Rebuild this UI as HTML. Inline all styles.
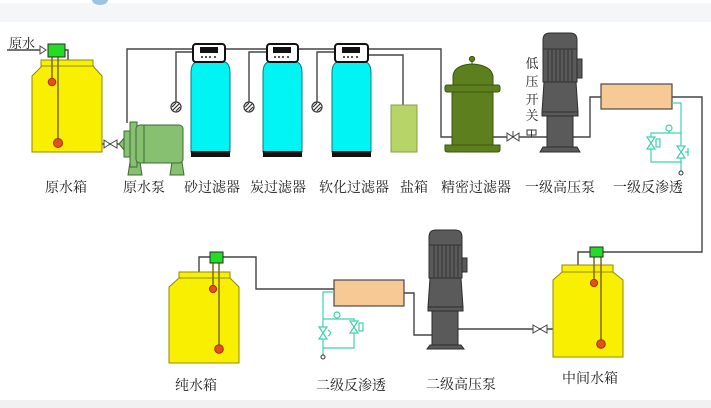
<!DOCTYPE html>
<html><head><meta charset="utf-8"><style>
html,body{margin:0;padding:0;background:#fff;}
svg{display:block;}
text{font-family:"Liberation Serif","Noto Serif CJK SC",serif;font-size:14px;fill:#1e1e1e;}
</style></head><body>
<svg width="711" height="408" viewBox="0 0 711 408" xmlns="http://www.w3.org/2000/svg">
<rect x="0" y="0" width="711" height="408" fill="#fff"/>
<!-- top band -->
<rect x="0" y="3" width="711" height="19" fill="#f5f6f8"/>
<path d="M92,0 A8,5 0 0 0 108,0 Z" fill="#9cc4e4"/>
<rect x="0" y="400" width="711" height="8" fill="#f1f1f1"/>

<!-- ========== pipes (dark) ========== -->
<g fill="none" stroke="#454545" stroke-width="1.4">
  <!-- raw water arrow -->
  <line x1="7" y1="50" x2="40" y2="50"/>
  <!-- raw tank green box to lid -->
  <polyline points="65,50 68,50 68,60"/>
  <!-- tank to valve to pump -->
  <line x1="102" y1="144" x2="120" y2="144"/>
  <!-- pump up to main line -->
  <polyline points="127,123 127,49 441,49 441,137 452,137"/>
  <!-- gauge lines -->
  <polyline points="176,102 176,52 193,52"/>
  <polyline points="249,102 249,52 267,52"/>
  <polyline points="317,102 317,52 335,52"/>
  <!-- softener to salt tank -->
  <polyline points="368,55 403,55 403,105"/>
  <!-- cartridge filter to pump1 -->
  <line x1="493" y1="137" x2="547" y2="137"/>
  <!-- pump1 to RO1 -->
  <polyline points="573,137 590,137 590,97 601,97"/>
  <!-- RO1 to middle tank -->
  <polyline points="672,97 702,97 702,252 603,252"/>
  <polyline points="590,252 578,252 578,265"/>
  <!-- middle tank to pump2 -->
  <line x1="458" y1="329" x2="553" y2="329"/>
  <!-- pump2 to RO2 -->
  <polyline points="432,335 414,335 414,293 404,293"/>
  <!-- RO2 to pure tank -->
  <polyline points="334,289 256,289 256,257 223,257"/>
  <polyline points="210,257 199,257 199,272"/>
</g>
<!-- raw arrowhead -->
<polygon points="40,46 46,50 40,54" fill="#fff" stroke="#454545" stroke-width="1"/>

<!-- ========== Raw water tank ========== -->
<rect x="41" y="60" width="52" height="6" fill="#f8f000" stroke="#8f8a00" stroke-width="1"/>
<polygon points="32,76 42,66 93,66 102,76 102,152 32,152" fill="#f8f000" stroke="#8f8a00" stroke-width="1"/>
<line x1="52" y1="57" x2="52" y2="82" stroke="#7a6a20" stroke-width="1.5"/>
<line x1="58" y1="57" x2="58" y2="143" stroke="#7a6a20" stroke-width="1.5"/>
<circle cx="52" cy="82" r="3.8" fill="#e4501a" stroke="#a83008" stroke-width="1"/>
<circle cx="58" cy="143" r="4.5" fill="#e4501a" stroke="#a83008" stroke-width="1"/>
<rect x="48" y="44" width="17" height="13" fill="#22dd22" stroke="#2a2a2a" stroke-width="1"/>
<text x="9" y="48" style="font-size:13px">原水</text>

<!-- valve 1 -->
<polygon points="104,140 110,144 104,148" fill="#fff" stroke="#444" stroke-width="1"/>
<polygon points="117,140 110,144 117,148" fill="#fff" stroke="#444" stroke-width="1"/>

<!-- ========== Pump 1 (horizontal, green) ========== -->
<g fill="#86c070" stroke="#3f6a35" stroke-width="1">
  <polygon points="130,162 140,162 142,175 128,175"/>
  <polygon points="172,162 182,162 184,175 170,175"/>
  <polygon points="119,144 124,138 124,150"/>
  <rect x="124" y="131" width="8" height="26"/>
  <rect x="130" y="122" width="7" height="45"/>
  <rect x="136" y="125" width="47" height="38" rx="4"/>
  <line x1="144" y1="125" x2="144" y2="163"/>
</g>

<!-- ========== Filters ========== -->
<g stroke="#0a7a7a" stroke-width="1" fill="#00f4f4">
  <path d="M196,62 L225,62 Q230,64 230,73 L230,152 L191,152 L191,73 Q191,64 196,62 Z"/>
  <path d="M268,62 L297,62 Q302,64 302,73 L302,152 L263,152 L263,73 Q263,64 268,62 Z"/>
  <path d="M337,62 L366,62 Q371,64 371,73 L371,152 L332,152 L332,73 Q332,64 337,62 Z"/>
</g>
<g fill="#111">
  <rect x="191" y="151" width="39" height="6"/>
  <rect x="263" y="151" width="39" height="6"/>
  <rect x="332" y="151" width="39" height="6"/>
</g>
<!-- controllers -->
<g>
  <rect x="193" y="44" width="32" height="18" rx="3" fill="#fff" stroke="#111" stroke-width="2"/>
  <rect x="200" y="47" width="18" height="6" fill="#111"/>
  <g fill="#222"><circle cx="202" cy="57" r="1"/><circle cx="206" cy="57" r="1"/><circle cx="210" cy="57" r="1"/><circle cx="215" cy="57" r="1"/></g>
  <rect x="267" y="44" width="31" height="18" rx="3" fill="#fff" stroke="#111" stroke-width="2"/>
  <rect x="273" y="47" width="18" height="6" fill="#111"/>
  <g fill="#222"><circle cx="275" cy="57" r="1"/><circle cx="279" cy="57" r="1"/><circle cx="283" cy="57" r="1"/><circle cx="288" cy="57" r="1"/></g>
  <rect x="335" y="44" width="33" height="18" rx="3" fill="#fff" stroke="#111" stroke-width="2"/>
  <rect x="342" y="47" width="18" height="6" fill="#111"/>
  <g fill="#222"><circle cx="344" cy="57" r="1"/><circle cx="348" cy="57" r="1"/><circle cx="352" cy="57" r="1"/><circle cx="357" cy="57" r="1"/></g>
</g>
<!-- gauges -->
<g fill="#fff" stroke="#333" stroke-width="1.2">
  <circle cx="176" cy="107" r="5"/>
  <circle cx="249" cy="107" r="5"/>
  <circle cx="317" cy="107" r="5"/>
</g>
<g stroke="#333" stroke-width="1.2">
  <line x1="173" y1="110" x2="179" y2="104"/><line x1="172" y1="107" x2="176" y2="103"/><line x1="176" y1="111" x2="180" y2="107"/>
  <line x1="246" y1="110" x2="252" y2="104"/><line x1="245" y1="107" x2="249" y2="103"/><line x1="249" y1="111" x2="253" y2="107"/>
  <line x1="314" y1="110" x2="320" y2="104"/><line x1="313" y1="107" x2="317" y2="103"/><line x1="317" y1="111" x2="321" y2="107"/>
</g>
<!-- salt tank -->
<rect x="391" y="105" width="26" height="47" fill="#b6d468" stroke="#8aa046" stroke-width="1"/>

<!-- ========== Cartridge filter ========== -->
<g fill="#5e7f1e" stroke="#3a5410" stroke-width="1">
  <line x1="472" y1="61" x2="472" y2="65"/>
  <circle cx="472" cy="59" r="2.6"/>
  <path d="M453,85 L453,76 Q454,65 472,64 Q491,65 493,76 L493,85 Z"/>
  <rect x="445" y="85" width="55" height="7" rx="2"/>
  <rect x="452" y="92" width="41" height="53"/>
  <path d="M445,145 L500,145 L500,150 Q500,152 497,152 L448,152 Q445,152 445,150 Z"/>
</g>
<!-- valve 2 -->
<polygon points="507,133 513,137 507,141" fill="#fff" stroke="#444" stroke-width="1"/>
<polygon points="519,133 513,137 519,141" fill="#fff" stroke="#444" stroke-width="1"/>
<line x1="513" y1="137" x2="513" y2="131" stroke="#444" stroke-width="1"/>
<!-- pressure switch -->
<rect x="527" y="130" width="9" height="5" fill="#fff" stroke="#333" stroke-width="1"/>
<line x1="531.5" y1="130" x2="531.5" y2="137" stroke="#333" stroke-width="1"/>
<text x="532" y="68" text-anchor="middle" style="font-size:13px">低</text>
<text x="532" y="86" text-anchor="middle" style="font-size:13px">压</text>
<text x="532" y="104" text-anchor="middle" style="font-size:13px">开</text>
<text x="532" y="120" text-anchor="middle" style="font-size:13px">关</text>

<!-- ========== Pump 1 vertical ========== -->
<g fill="#5a5a5a" stroke="#2c2c2c" stroke-width="1">
  <rect x="577" y="59" width="5" height="19"/>
  <path d="M543,82 L543,40 Q543,33 550,33 L570,33 Q577,33 577,40 L577,82 Z"/>
  <polygon points="544,82 576,82 578,112 542,112"/>
  <rect x="542" y="112" width="36" height="4"/>
  <rect x="547" y="116" width="26" height="31"/>
  <polygon points="543,147 577,147 580,152 540,152"/>
</g>
<g stroke="#333" stroke-width="1">
  <line x1="548" y1="49" x2="548" y2="81"/><line x1="552" y1="49" x2="552" y2="81"/><line x1="556" y1="49" x2="556" y2="81"/><line x1="560" y1="49" x2="560" y2="81"/><line x1="564" y1="49" x2="564" y2="81"/><line x1="568" y1="49" x2="568" y2="81"/><line x1="572" y1="49" x2="572" y2="81"/>
  <line x1="543" y1="49" x2="577" y2="49"/>
</g>

<!-- ========== RO1 ========== -->
<rect x="601" y="84" width="71" height="25" fill="#f7c995" stroke="#4a4a4a" stroke-width="1.2"/>
<g fill="none" stroke="#3ed2b0" stroke-width="1.2">
  <polyline points="672,103 681,103 681,172"/>
  <polyline points="681,133 651,133 651,162 681,162"/>
  <line x1="669" y1="131" x2="669" y2="133"/>
  <circle cx="669" cy="128" r="3"/>
  <polygon points="647,137 655,137 647,149 655,149" fill="#fff"/>
  <rect x="656" y="139" width="4" height="8" fill="#fff"/>
  <polygon points="677,146 685,146 677,158 685,158" fill="#fff"/>
  <line x1="685" y1="152" x2="688" y2="152"/>
  <line x1="688" y1="148" x2="688" y2="156"/>
</g>
<circle cx="681" cy="173" r="2" fill="#fff" stroke="#333" stroke-width="1"/>

<!-- ========== Middle tank ========== -->
<rect x="562" y="265" width="51" height="7" fill="#f8f000" stroke="#8f8a00" stroke-width="1"/>
<polygon points="553,280 562,272 613,272 623,280 623,357 553,357" fill="#f8f000" stroke="#8f8a00" stroke-width="1"/>
<line x1="594" y1="257" x2="594" y2="283" stroke="#7a6a20" stroke-width="1.5"/>
<line x1="601" y1="257" x2="601" y2="344" stroke="#7a6a20" stroke-width="1.5"/>
<circle cx="594" cy="283" r="3.6" fill="#e4501a" stroke="#a83008" stroke-width="1"/>
<circle cx="601" cy="344" r="4.3" fill="#e4501a" stroke="#a83008" stroke-width="1"/>
<rect x="590" y="247" width="13" height="10" fill="#22dd22" stroke="#2a2a2a" stroke-width="1"/>
<!-- valve 3 -->
<polygon points="533,325 540,329 533,333" fill="#fff" stroke="#444" stroke-width="1"/>
<polygon points="547,325 540,329 547,333" fill="#fff" stroke="#444" stroke-width="1"/>

<!-- ========== Pump 2 vertical ========== -->
<g fill="#5a5a5a" stroke="#2c2c2c" stroke-width="1">
  <rect x="462" y="258" width="5" height="14"/>
  <path d="M429,278 L429,237 Q429,230 436,230 L455,230 Q462,230 462,237 L462,278 Z"/>
  <polygon points="430,278 461,278 463,307 428,307"/>
  <rect x="428" y="307" width="35" height="4"/>
  <rect x="432" y="311" width="26" height="34"/>
  <polygon points="430,345 461,345 464,349 427,349"/>
</g>
<g stroke="#333" stroke-width="1">
  <line x1="434" y1="245" x2="434" y2="277"/><line x1="438" y1="245" x2="438" y2="277"/><line x1="442" y1="245" x2="442" y2="277"/><line x1="446" y1="245" x2="446" y2="277"/><line x1="450" y1="245" x2="450" y2="277"/><line x1="454" y1="245" x2="454" y2="277"/><line x1="458" y1="245" x2="458" y2="277"/>
  <line x1="429" y1="245" x2="462" y2="245"/>
</g>

<!-- ========== RO2 ========== -->
<rect x="334" y="280" width="70" height="26" fill="#f7c995" stroke="#4a4a4a" stroke-width="1.2"/>
<g fill="none" stroke="#3ed2b0" stroke-width="1.2">
  <polyline points="334,292 323,292 323,356"/>
  <polyline points="323,319 354,319 354,348 323,348"/>
  <line x1="337" y1="318" x2="337" y2="319"/>
  <circle cx="337" cy="315" r="3"/>
  <polygon points="319,327 327,327 319,339 327,339" fill="#fff"/>
  <path d="M328,330 Q333,333 328,336"/>
  <polygon points="350,321 358,321 350,333 358,333" fill="#fff"/>
  <rect x="359" y="323" width="4" height="8" fill="#fff"/>
</g>
<circle cx="323" cy="357" r="2" fill="#fff" stroke="#333" stroke-width="1"/>

<!-- ========== Pure water tank ========== -->
<rect x="179" y="272" width="51" height="6" fill="#f8f000" stroke="#8f8a00" stroke-width="1"/>
<polygon points="169,287 179,278 230,278 239,287 239,363 169,363" fill="#f8f000" stroke="#8f8a00" stroke-width="1"/>
<line x1="213" y1="263" x2="213" y2="289" stroke="#7a6a20" stroke-width="1.5"/>
<line x1="219" y1="263" x2="219" y2="349" stroke="#7a6a20" stroke-width="1.5"/>
<circle cx="213" cy="289" r="3.6" fill="#e4501a" stroke="#a83008" stroke-width="1"/>
<circle cx="219" cy="349" r="4.3" fill="#e4501a" stroke="#a83008" stroke-width="1"/>
<rect x="210" y="252" width="13" height="11" fill="#22dd22" stroke="#2a2a2a" stroke-width="1"/>

<!-- ========== Labels ========== -->
<g text-anchor="middle">
  <text x="66" y="192">原水箱</text>
  <text x="144" y="192">原水泵</text>
  <text x="212" y="192">砂过滤器</text>
  <text x="278" y="192">炭过滤器</text>
  <text x="354" y="192">软化过滤器</text>
  <text x="414" y="192">盐箱</text>
  <text x="476" y="192">精密过滤器</text>
  <text x="560" y="192">一级高压泵</text>
  <text x="648" y="192">一级反渗透</text>
  <text x="196" y="390">纯水箱</text>
  <text x="351" y="390">二级反渗透</text>
  <text x="461" y="389">二级高压泵</text>
  <text x="590" y="383">中间水箱</text>
</g>
</svg>
</body></html>
